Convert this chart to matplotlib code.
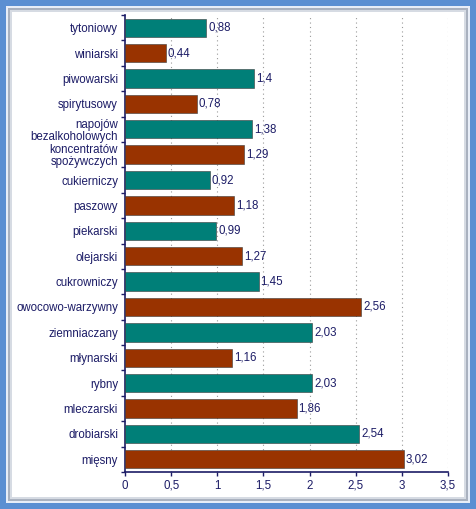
import matplotlib
matplotlib.use("Agg")
import matplotlib.pyplot as plt
from matplotlib.patches import Rectangle
from matplotlib.ticker import FixedLocator, NullFormatter
from matplotlib.transforms import blended_transform_factory

categories = ["tytoniowy", "winiarski", "piwowarski", "spirytusowy",
              "napojów\nbezalkoholowych", "koncentratów\nspożywczych",
              "cukierniczy", "paszowy", "piekarski", "olejarski", "cukrowniczy",
              "owocowo-warzywny", "ziemniaczany", "młynarski", "rybny",
              "mleczarski", "drobiarski", "mięsny"]
values = [0.88, 0.44, 1.4, 0.78, 1.38, 1.29, 0.92, 1.18, 0.99, 1.27, 1.45,
          2.56, 2.03, 1.16, 2.03, 1.86, 2.54, 3.02]
value_labels = ["0,88", "0,44", "1,4", "0,78", "1,38", "1,29", "0,92", "1,18",
                "0,99", "1,27", "1,45", "2,56", "2,03", "1,16", "2,03", "1,86",
                "2,54", "3,02"]
x_ticks = [0, 0.5, 1, 1.5, 2, 2.5, 3, 3.5]
x_tick_labels = ["0", "0,5", "1", "1,5", "2", "2,5", "3", "3,5"]

teal = "#007f78"
brown = "#993300"
navy = "#1c1c66"
FS = 8.3

plt.rcParams['font.family'] = ['Liberation Sans', 'DejaVu Sans']

fig = plt.figure(figsize=(4.76, 5.09), dpi=100)
fig.patch.set_facecolor("white")

W, H = 476, 509
def fr(x, y, w, h, **kw):
    fig.patches.append(Rectangle((x / W, 1 - (y + h) / H), w / W, h / H,
                                 transform=fig.transFigure, zorder=-10, **kw))

# outer blue frame with inner bevel/shadow
fr(0, 0, 476, 509, facecolor="#5b8fd2", edgecolor="none")
fr(6, 6, 464, 497, facecolor="#e8eef8", edgecolor="none")
fr(8, 8, 460, 493, facecolor="#a9b1bf", edgecolor="none")
fr(10, 10, 456, 489, facecolor="#d6dbe3", edgecolor="none")
fr(12, 12, 452, 485, facecolor="white", edgecolor="none")

ax = fig.add_axes([125 / W, 1 - 472 / H, (448 - 125) / W, (472 - 15) / H])
ax.set_facecolor("none")
ax.set_zorder(5)

n = len(categories)
ypos = list(range(n))
colors = [teal if i % 2 == 0 else brown for i in range(n)]
ax.barh(ypos, values, height=0.72, color=colors, edgecolor="#3a3a3a",
        linewidth=0.4, zorder=3)
for i, (v, lab) in enumerate(zip(values, value_labels)):
    ax.text(v + 0.02, i, lab, va="center", ha="left", fontsize=FS,
            color=navy, zorder=4)

ax.set_ylim(n - 0.5, -0.5)
ax.set_xlim(0, 3.5)
ax.set_yticks(ypos)
ax.set_yticklabels(categories, fontsize=FS, color=navy, linespacing=1.0)
ax.yaxis.set_minor_locator(FixedLocator([i - 0.5 for i in range(n + 1)]))
ax.tick_params(axis="y", which="major", length=0, pad=5)
ax.tick_params(axis="y", which="minor", length=3, color=navy, width=1)

ax.set_xticks(x_ticks)
ax.xaxis.set_major_formatter(NullFormatter())
ax.tick_params(axis="x", length=3, color=navy, width=1)
trans = blended_transform_factory(ax.transData, ax.transAxes)
for x, lab in zip(x_ticks, x_tick_labels):
    ax.text(x, -0.0365, lab, transform=trans, ha="center", va="baseline",
            fontsize=FS, color=navy, clip_on=False)

for x in x_ticks[1:]:
    ax.axvline(x, color="#9a9a9a", linestyle=(0, (1, 3)), linewidth=0.8,
               zorder=1)

for s in ["top", "right"]:
    ax.spines[s].set_visible(False)
ax.spines["left"].set_color(navy)
ax.spines["left"].set_linewidth(1.2)
ax.spines["bottom"].set_color(navy)
ax.spines["bottom"].set_linewidth(1.2)

fig.savefig("out.png", dpi=100)
